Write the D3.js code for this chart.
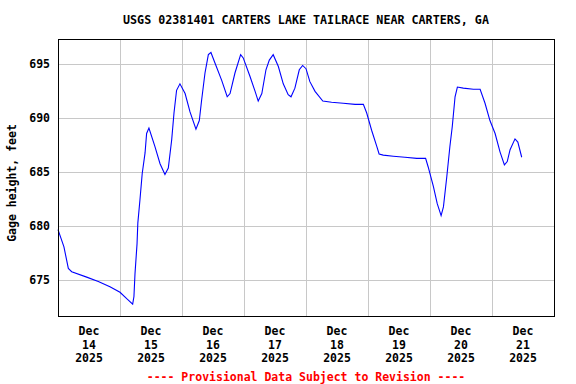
<!DOCTYPE html>
<html>
<head>
<meta charset="utf-8">
<script src="https://cdn.jsdelivr.net/npm/d3@7"></script>
<style>
  body { margin: 0; background: #fff; }
  svg text { font-family: "DejaVu Sans Mono", "Liberation Mono", monospace; font-weight: bold; }
</style>
</head>
<body>
<svg id="chart" width="576" height="384"></svg>
<script>
// hours since Dec 14 2025 00:00 and gage height (feet)
var hoursFromStart = [0, 2.3, 4.0, 5.3, 11.1, 15.6, 20.1, 24.0, 26.6, 28.9, 29.4, 29.8, 30.6, 30.9, 31.7, 32.6, 33.7, 34.3, 35.2,
    37.5, 39.5, 41.4, 42.7, 44.0, 44.9, 45.9, 47.2, 49.2, 51.1, 53.4, 54.7, 55.6, 56.9, 58.2, 59.2, 60.8, 63.4, 65.5,
    66.6, 68.5, 70.7, 71.7, 74.3, 76.3, 77.5, 78.9, 80.5, 81.8, 83.3, 85.3, 87.2, 89.1, 90.2, 91.7, 93.4, 94.7, 96.0,
    97.5, 99.5, 102.5, 105.9, 110.4, 115.0, 118.2, 119.5, 121.4, 123.4, 124.3, 125.9, 129.8, 134.3, 138.9, 142.3,
    143.3, 145.3, 146.8, 148.3, 149.2, 150.5, 151.7, 152.6, 153.7, 154.6, 156.9, 160.8, 163.4, 165.3, 167.2, 169.2,
    171.1, 172.8, 173.9, 175.0, 176.9, 178.0, 179.5];
var gageFeet = [679.7, 678.1, 676.1, 675.8, 675.3, 674.9, 674.4, 673.9, 673.3, 672.8, 673.5, 675.6, 678.4, 680.3, 682.4, 684.9, 686.8, 688.6, 689.1,
    687.4, 685.8, 684.8, 685.4, 688.0, 690.5, 692.6, 693.2, 692.3, 690.6, 689.0, 689.8, 691.7, 694.2, 695.9, 696.1, 695.1, 693.5, 692.0,
    692.3, 694.2, 695.9, 695.6, 693.9, 692.5, 691.6, 692.3, 694.5, 695.4, 695.9, 694.8, 693.2, 692.2, 692.0, 692.8, 694.5, 694.9, 694.6,
    693.4, 692.5, 691.6, 691.5, 691.4, 691.3, 691.3, 690.5, 688.9, 687.4, 686.7, 686.6, 686.5, 686.4, 686.3, 686.3,
    685.5, 683.7, 682.1, 681.0, 681.8, 684.6, 687.4, 689.2, 692.0, 692.9, 692.8, 692.7, 692.7, 691.4, 689.8, 688.6,
    686.9, 685.7, 686.0, 687.1, 688.1, 687.8, 686.4];
var yTicks = [675, 680, 685, 690, 695];
var dayLabels = ["14", "15", "16", "17", "18", "19", "20", "21"];

var svg = d3.select("#chart");
var plotLeft = 58, plotRight = 554, plotTop = 39, plotBottom = 316;
var t0 = Date.UTC(2025, 11, 14);
var hour = 3600 * 1000;

var data = hoursFromStart.map(function(h, i) {
    return { date: new Date(t0 + h * hour), value: gageFeet[i] };
});

var x = d3.scaleUtc()
    .domain([new Date(t0), new Date(t0 + 8 * 24 * hour)])
    .range([plotLeft, plotRight]);
var y = d3.scaleLinear()
    .domain([671.7, 697.35])
    .range([plotBottom, plotTop]);

// grid
var midnights = d3.utcDay.range(new Date(t0 + hour), new Date(t0 + 8 * 24 * hour));
svg.append("g").selectAll("line").data(midnights).enter().append("line")
    .attr("x1", function(d) { return Math.round(x(d)) + 0.5; })
    .attr("x2", function(d) { return Math.round(x(d)) + 0.5; })
    .attr("y1", plotTop).attr("y2", plotBottom)
    .attr("stroke", "#c8c8c8").attr("shape-rendering", "crispEdges");
svg.append("g").selectAll("line").data(yTicks).enter().append("line")
    .attr("x1", plotLeft).attr("x2", plotRight)
    .attr("y1", function(d) { return Math.round(y(d)) + 0.5; })
    .attr("y2", function(d) { return Math.round(y(d)) + 0.5; })
    .attr("stroke", "#c8c8c8").attr("shape-rendering", "crispEdges");

// the line
var line = d3.line()
    .x(function(d) { return x(d.date); })
    .y(function(d) { return y(d.value); });
svg.append("path").datum(data)
    .attr("d", line)
    .attr("fill", "none")
    .attr("stroke", "#0000ff")
    .attr("stroke-width", 1.1);

// border
svg.append("rect")
    .attr("x", plotLeft + 0.5).attr("y", plotTop + 0.5)
    .attr("width", plotRight - plotLeft).attr("height", plotBottom - plotTop)
    .attr("fill", "none").attr("stroke", "#000").attr("shape-rendering", "crispEdges");

// y axis labels
svg.append("g").selectAll("text").data(yTicks).enter().append("text")
    .attr("x", 50)
    .attr("y", function(d) { return y(d) + 4; })
    .attr("text-anchor", "end")
    .attr("font-size", "11.5px")
    .text(function(d) { return d; });

// x axis labels at noon
var xl = svg.append("g").selectAll("text").data(dayLabels).enter().append("text")
    .attr("text-anchor", "middle")
    .attr("font-size", "11.5px")
    .attr("transform", function(d, i) {
        return "translate(" + x(new Date(t0 + (i * 24 + 12) * hour)) + ",0)";
    });
xl.append("tspan").attr("x", 0).attr("y", 335).text("Dec");
xl.append("tspan").attr("x", 0).attr("y", 348.5).text(function(d) { return d; });
xl.append("tspan").attr("x", 0).attr("y", 362).text("2025");

// title
svg.append("text")
    .attr("x", 306).attr("y", 24)
    .attr("text-anchor", "middle")
    .attr("font-size", "11.7px")
    .text("USGS 02381401 CARTERS LAKE TAILRACE NEAR CARTERS, GA");

// y title
svg.append("text")
    .attr("transform", "translate(16,183) rotate(-90)")
    .attr("text-anchor", "middle")
    .attr("font-size", "11.5px")
    .text("Gage height, feet");

// footer
svg.append("text")
    .attr("x", 306).attr("y", 381)
    .attr("text-anchor", "middle")
    .attr("font-size", "11.5px")
    .attr("fill", "#ff0000")
    .text("---- Provisional Data Subject to Revision ----");
</script>
</body>
</html>
